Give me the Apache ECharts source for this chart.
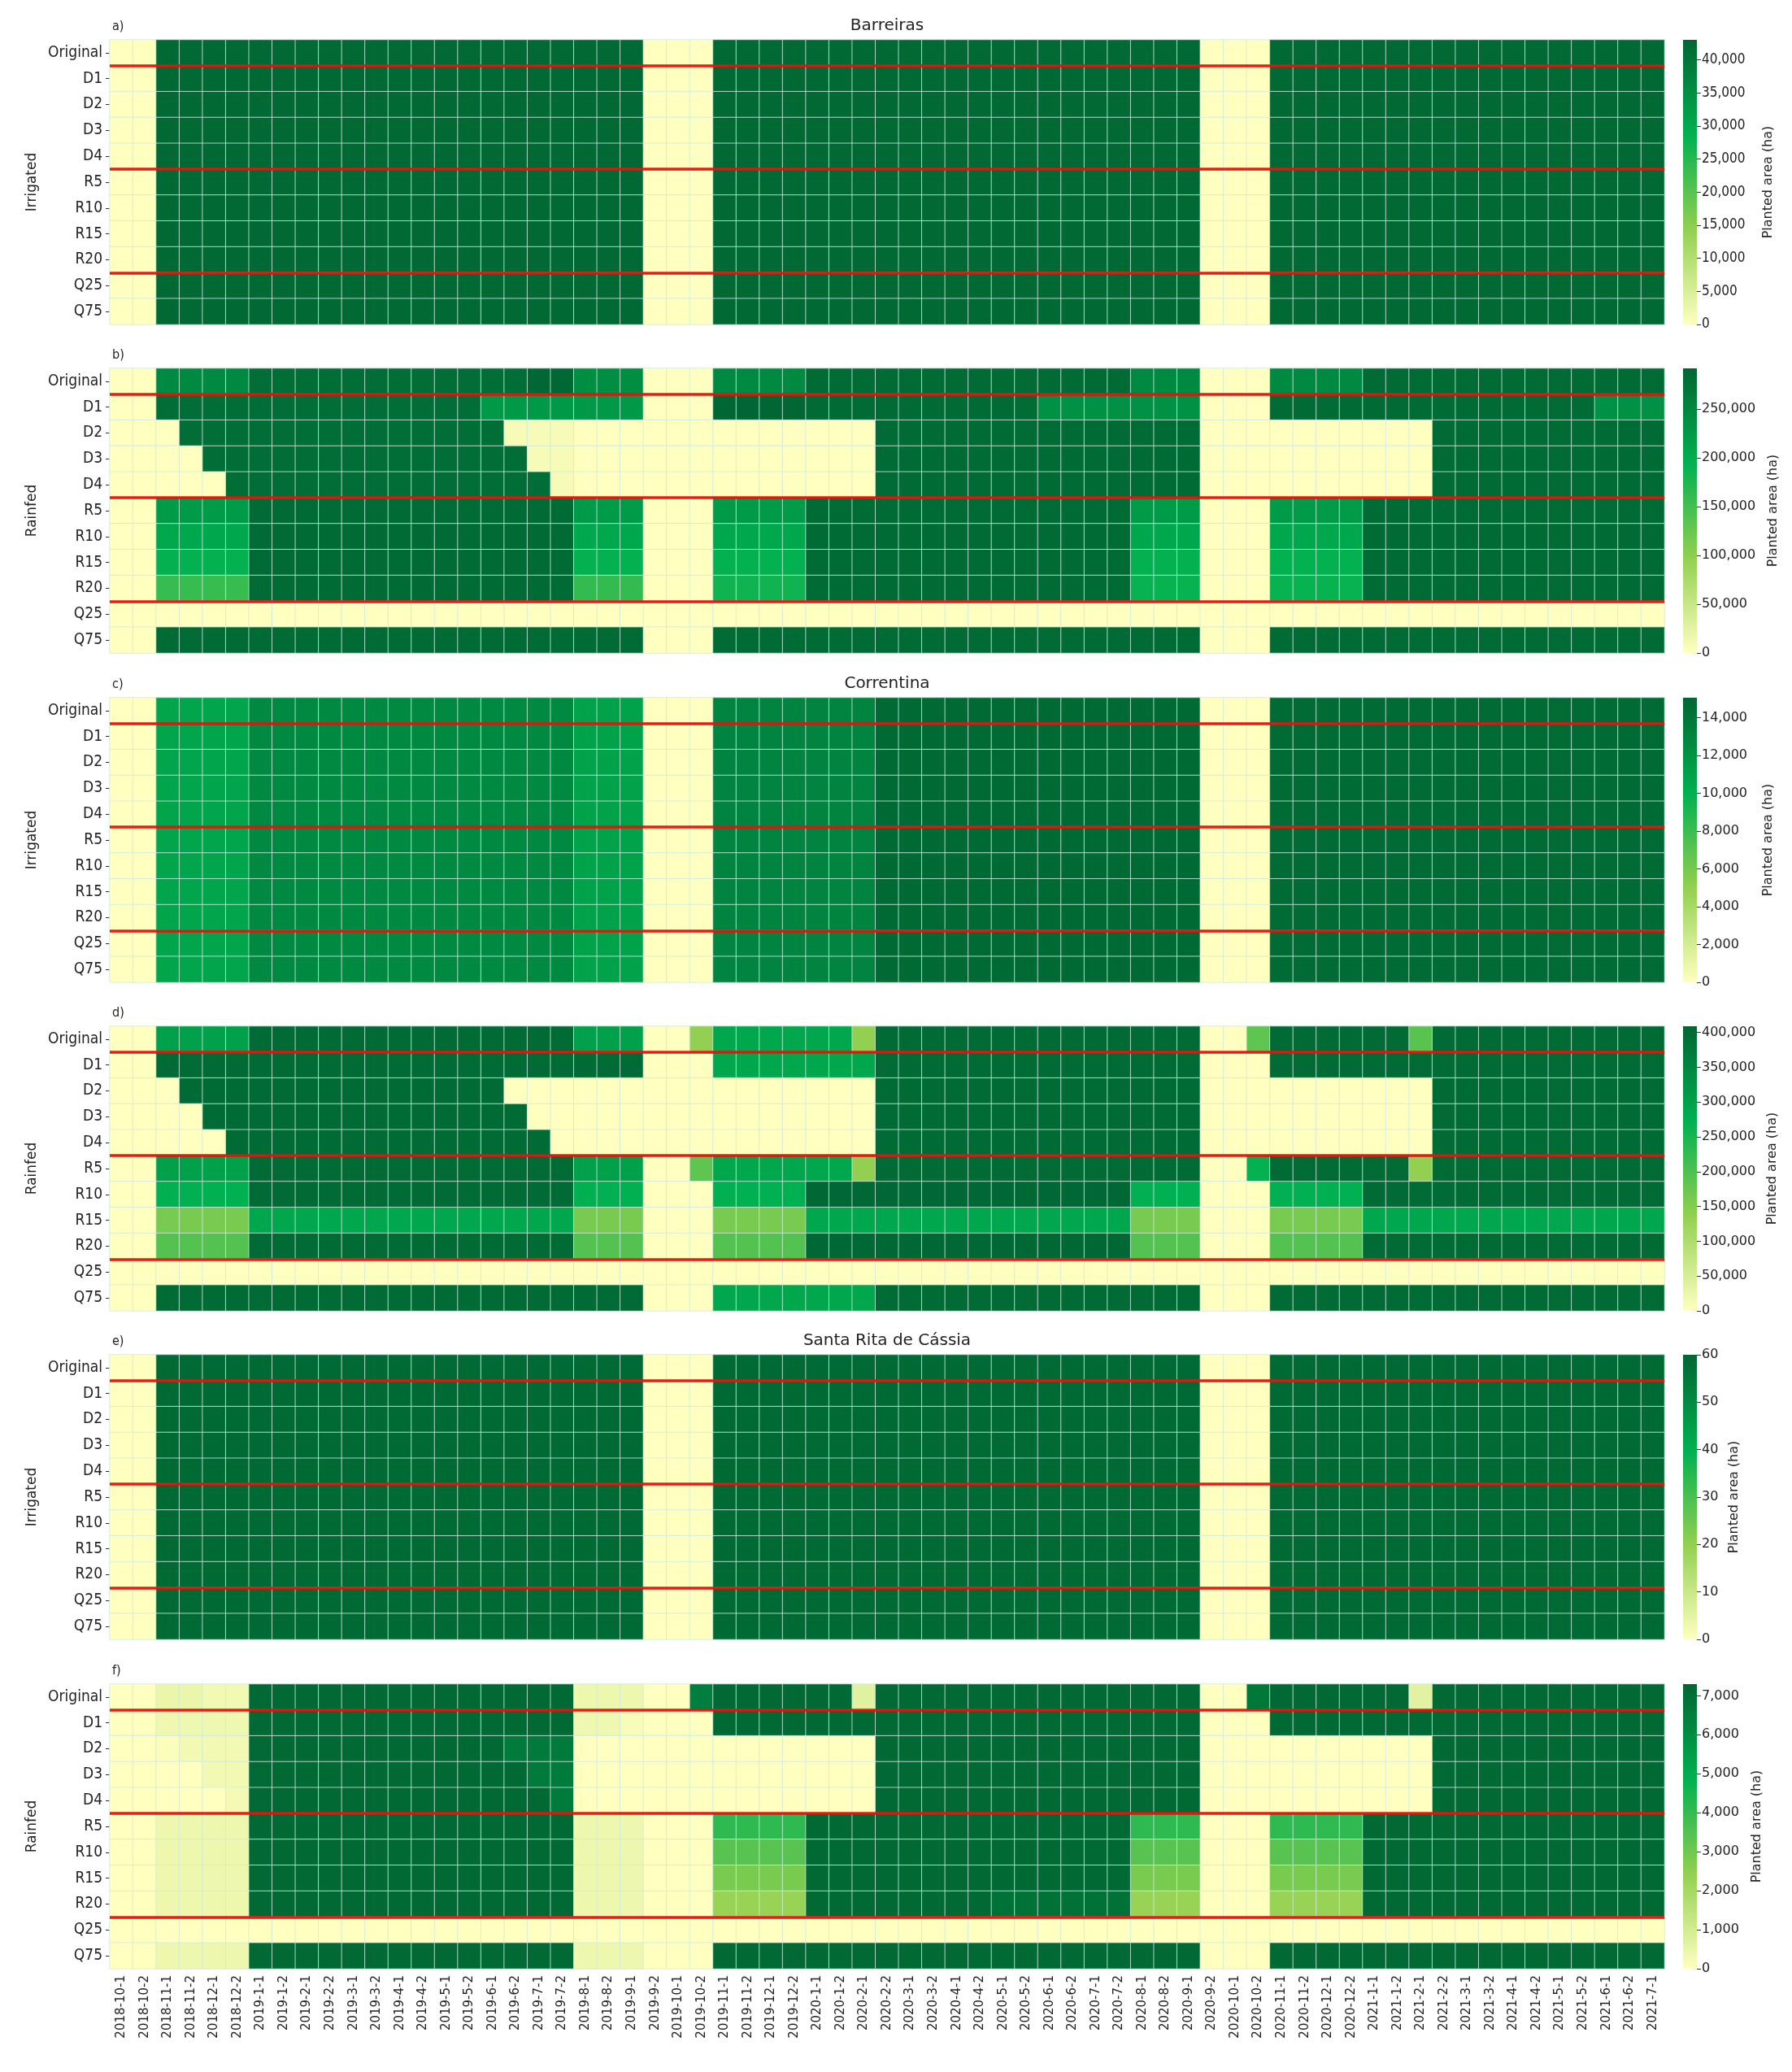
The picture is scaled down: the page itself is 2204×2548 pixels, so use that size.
<!DOCTYPE html>
<html><head><meta charset="utf-8">
<script src="https://cdn.jsdelivr.net/npm/echarts@6/dist/echarts.min.js"></script>
<style>html,body{margin:0;padding:0;background:#fff}#c{width:2204px;height:2548px}</style>
</head><body><div id="c"></div>
<script>
const columns = ['2018-10-1','2018-10-2','2018-11-1','2018-11-2','2018-12-1','2018-12-2',
'2019-1-1','2019-1-2','2019-2-1','2019-2-2','2019-3-1','2019-3-2','2019-4-1','2019-4-2','2019-5-1','2019-5-2','2019-6-1','2019-6-2',
'2019-7-1','2019-7-2','2019-8-1','2019-8-2','2019-9-1','2019-9-2','2019-10-1','2019-10-2','2019-11-1','2019-11-2','2019-12-1','2019-12-2',
'2020-1-1','2020-1-2','2020-2-1','2020-2-2','2020-3-1','2020-3-2','2020-4-1','2020-4-2','2020-5-1','2020-5-2','2020-6-1','2020-6-2',
'2020-7-1','2020-7-2','2020-8-1','2020-8-2','2020-9-1','2020-9-2','2020-10-1','2020-10-2','2020-11-1','2020-11-2','2020-12-1','2020-12-2',
'2021-1-1','2021-1-2','2021-2-1','2021-2-2','2021-3-1','2021-3-2','2021-4-1','2021-4-2','2021-5-1','2021-5-2','2021-6-1','2021-6-2','2021-7-1'];
const scenarios = ['Original','D1','D2','D3','D4','R5','R10','R15','R20','Q25','Q75'];
const separatorRows = [1, 5, 9];

const barreirasIrrigatedTicks = [0,5000,10000,15000,20000,25000,30000,35000,40000];
const barreirasRainfedTicks = [0,50000,100000,150000,200000,250000];
const correntinaIrrigatedTicks = [0,2000,4000,6000,8000,10000,12000,14000];
const correntinaRainfedTicks = [0,50000,100000,150000,200000,250000,300000,350000,400000];
const santaRitaIrrigatedTicks = [0,10,20,30,40,50,60];
const santaRitaRainfedTicks = [0,1000,2000,3000,4000,5000,6000,7000];
const colorbarMax = [43000, 292000, 15050, 409000, 60, 7300];

const barreirasIrrigated = [
[0,0,42500,42500,42500,42500,42500,42500,42500,42500,42500,42500,42500,42500,42500,42500,42500,42500,42500,42500,42500,42500,42500,0,0,0,42500,42500,42500,42500,42500,42500,42500,42500,42500,42500,42500,42500,42500,42500,42500,42500,42500,42500,42500,42500,42500,0,0,0,42500,42500,42500,42500,42500,42500,42500,42500,42500,42500,42500,42500,42500,42500,42500,42500,42500],
[0,0,42500,42500,42500,42500,42500,42500,42500,42500,42500,42500,42500,42500,42500,42500,42500,42500,42500,42500,42500,42500,42500,0,0,0,42500,42500,42500,42500,42500,42500,42500,42500,42500,42500,42500,42500,42500,42500,42500,42500,42500,42500,42500,42500,42500,0,0,0,42500,42500,42500,42500,42500,42500,42500,42500,42500,42500,42500,42500,42500,42500,42500,42500,42500],
[0,0,42500,42500,42500,42500,42500,42500,42500,42500,42500,42500,42500,42500,42500,42500,42500,42500,42500,42500,42500,42500,42500,0,0,0,42500,42500,42500,42500,42500,42500,42500,42500,42500,42500,42500,42500,42500,42500,42500,42500,42500,42500,42500,42500,42500,0,0,0,42500,42500,42500,42500,42500,42500,42500,42500,42500,42500,42500,42500,42500,42500,42500,42500,42500],
[0,0,42500,42500,42500,42500,42500,42500,42500,42500,42500,42500,42500,42500,42500,42500,42500,42500,42500,42500,42500,42500,42500,0,0,0,42500,42500,42500,42500,42500,42500,42500,42500,42500,42500,42500,42500,42500,42500,42500,42500,42500,42500,42500,42500,42500,0,0,0,42500,42500,42500,42500,42500,42500,42500,42500,42500,42500,42500,42500,42500,42500,42500,42500,42500],
[0,0,42500,42500,42500,42500,42500,42500,42500,42500,42500,42500,42500,42500,42500,42500,42500,42500,42500,42500,42500,42500,42500,0,0,0,42500,42500,42500,42500,42500,42500,42500,42500,42500,42500,42500,42500,42500,42500,42500,42500,42500,42500,42500,42500,42500,0,0,0,42500,42500,42500,42500,42500,42500,42500,42500,42500,42500,42500,42500,42500,42500,42500,42500,42500],
[0,0,42500,42500,42500,42500,42500,42500,42500,42500,42500,42500,42500,42500,42500,42500,42500,42500,42500,42500,42500,42500,42500,0,0,0,42500,42500,42500,42500,42500,42500,42500,42500,42500,42500,42500,42500,42500,42500,42500,42500,42500,42500,42500,42500,42500,0,0,0,42500,42500,42500,42500,42500,42500,42500,42500,42500,42500,42500,42500,42500,42500,42500,42500,42500],
[0,0,42500,42500,42500,42500,42500,42500,42500,42500,42500,42500,42500,42500,42500,42500,42500,42500,42500,42500,42500,42500,42500,0,0,0,42500,42500,42500,42500,42500,42500,42500,42500,42500,42500,42500,42500,42500,42500,42500,42500,42500,42500,42500,42500,42500,0,0,0,42500,42500,42500,42500,42500,42500,42500,42500,42500,42500,42500,42500,42500,42500,42500,42500,42500],
[0,0,42500,42500,42500,42500,42500,42500,42500,42500,42500,42500,42500,42500,42500,42500,42500,42500,42500,42500,42500,42500,42500,0,0,0,42500,42500,42500,42500,42500,42500,42500,42500,42500,42500,42500,42500,42500,42500,42500,42500,42500,42500,42500,42500,42500,0,0,0,42500,42500,42500,42500,42500,42500,42500,42500,42500,42500,42500,42500,42500,42500,42500,42500,42500],
[0,0,42500,42500,42500,42500,42500,42500,42500,42500,42500,42500,42500,42500,42500,42500,42500,42500,42500,42500,42500,42500,42500,0,0,0,42500,42500,42500,42500,42500,42500,42500,42500,42500,42500,42500,42500,42500,42500,42500,42500,42500,42500,42500,42500,42500,0,0,0,42500,42500,42500,42500,42500,42500,42500,42500,42500,42500,42500,42500,42500,42500,42500,42500,42500],
[0,0,42500,42500,42500,42500,42500,42500,42500,42500,42500,42500,42500,42500,42500,42500,42500,42500,42500,42500,42500,42500,42500,0,0,0,42500,42500,42500,42500,42500,42500,42500,42500,42500,42500,42500,42500,42500,42500,42500,42500,42500,42500,42500,42500,42500,0,0,0,42500,42500,42500,42500,42500,42500,42500,42500,42500,42500,42500,42500,42500,42500,42500,42500,42500],
[0,0,42500,42500,42500,42500,42500,42500,42500,42500,42500,42500,42500,42500,42500,42500,42500,42500,42500,42500,42500,42500,42500,0,0,0,42500,42500,42500,42500,42500,42500,42500,42500,42500,42500,42500,42500,42500,42500,42500,42500,42500,42500,42500,42500,42500,0,0,0,42500,42500,42500,42500,42500,42500,42500,42500,42500,42500,42500,42500,42500,42500,42500,42500,42500]
];

const barreirasRainfed = [
[0,0,245000,245000,245000,245000,282000,282000,282000,282000,282000,282000,282000,282000,282000,282000,282000,282000,290000,290000,240000,240000,240000,0,0,0,245000,245000,245000,245000,285000,285000,285000,285000,285000,285000,285000,285000,285000,285000,285000,285000,285000,285000,245000,245000,245000,0,0,0,245000,245000,245000,245000,285000,285000,285000,285000,285000,285000,285000,285000,285000,285000,285000,285000,285000],
[0,0,282000,282000,282000,282000,282000,282000,282000,282000,282000,282000,282000,282000,282000,282000,225000,225000,225000,225000,225000,225000,225000,0,0,0,292000,292000,292000,292000,285000,285000,285000,285000,285000,285000,285000,285000,285000,285000,235000,235000,235000,235000,235000,235000,235000,0,0,0,285000,285000,285000,285000,285000,285000,285000,285000,285000,285000,285000,285000,285000,285000,235000,235000,235000],
[0,0,0,282000,282000,282000,282000,282000,282000,282000,282000,282000,282000,282000,282000,282000,282000,8000,8000,8000,0,0,0,0,0,0,0,0,0,0,0,0,0,285000,285000,285000,285000,285000,285000,285000,285000,285000,285000,285000,285000,285000,285000,0,0,0,0,0,0,0,0,0,0,285000,285000,285000,285000,285000,285000,285000,285000,285000,285000],
[0,0,0,0,282000,282000,282000,282000,282000,282000,282000,282000,282000,282000,282000,282000,282000,282000,8000,8000,0,0,0,0,0,0,0,0,0,0,0,0,0,285000,285000,285000,285000,285000,285000,285000,285000,285000,285000,285000,285000,285000,285000,0,0,0,0,0,0,0,0,0,0,285000,285000,285000,285000,285000,285000,285000,285000,285000,285000],
[0,0,0,0,0,282000,282000,282000,282000,282000,282000,282000,282000,282000,282000,282000,282000,282000,282000,8000,0,0,0,0,0,0,0,0,0,0,0,0,0,285000,285000,285000,285000,285000,285000,285000,285000,285000,285000,285000,285000,285000,285000,0,0,0,0,0,0,0,0,0,0,285000,285000,285000,285000,285000,285000,285000,285000,285000,285000],
[0,0,222000,222000,222000,222000,285000,285000,285000,285000,285000,285000,285000,285000,285000,285000,285000,285000,285000,285000,222000,222000,222000,0,0,0,222000,222000,222000,222000,285000,285000,285000,285000,285000,285000,285000,285000,285000,285000,285000,285000,285000,285000,222000,222000,222000,0,0,0,222000,222000,222000,222000,285000,285000,285000,285000,285000,285000,285000,285000,285000,285000,285000,285000,285000],
[0,0,205000,205000,205000,205000,285000,285000,285000,285000,285000,285000,285000,285000,285000,285000,285000,285000,285000,285000,205000,205000,205000,0,0,0,205000,205000,205000,205000,285000,285000,285000,285000,285000,285000,285000,285000,285000,285000,285000,285000,285000,285000,205000,205000,205000,0,0,0,205000,205000,205000,205000,285000,285000,285000,285000,285000,285000,285000,285000,285000,285000,285000,285000,285000],
[0,0,192000,192000,192000,192000,285000,285000,285000,285000,285000,285000,285000,285000,285000,285000,285000,285000,285000,285000,192000,192000,192000,0,0,0,192000,192000,192000,192000,285000,285000,285000,285000,285000,285000,285000,285000,285000,285000,285000,285000,285000,285000,192000,192000,192000,0,0,0,192000,192000,192000,192000,285000,285000,285000,285000,285000,285000,285000,285000,285000,285000,285000,285000,285000],
[0,0,158000,158000,158000,158000,285000,285000,285000,285000,285000,285000,285000,285000,285000,285000,285000,285000,285000,285000,160000,160000,160000,0,0,0,185000,185000,185000,185000,285000,285000,285000,285000,285000,285000,285000,285000,285000,285000,285000,285000,285000,285000,190000,190000,190000,0,0,0,190000,190000,190000,190000,285000,285000,285000,285000,285000,285000,285000,285000,285000,285000,285000,285000,285000],
[0,0,0,0,0,0,0,0,0,0,0,0,0,0,0,0,0,0,0,0,0,0,0,0,0,0,0,0,0,0,0,0,0,0,0,0,0,0,0,0,0,0,0,0,0,0,0,0,0,0,0,0,0,0,0,0,0,0,0,0,0,0,0,0,0,0,0],
[0,0,285000,285000,285000,285000,285000,285000,285000,285000,285000,285000,285000,285000,285000,285000,285000,285000,285000,285000,285000,285000,285000,0,0,0,285000,285000,285000,285000,285000,285000,285000,285000,285000,285000,285000,285000,285000,285000,285000,285000,285000,285000,285000,285000,285000,0,0,0,285000,285000,285000,285000,285000,285000,285000,285000,285000,285000,285000,285000,285000,285000,285000,285000,285000]
];

const correntinaIrrigated = [
[0,0,10800,10800,10800,10800,12600,12600,12600,12600,12600,12600,12600,12600,12600,12600,12600,12600,12600,12600,11000,11000,11000,0,0,0,13000,13000,13000,13000,13000,13000,13000,14800,14800,14800,14800,14800,14800,14800,14800,14800,14800,14800,14800,14800,14800,0,0,0,14700,14700,14700,14700,14700,14700,14700,14700,14700,14700,14700,14700,14700,14700,14700,14700,14700],
[0,0,10800,10800,10800,10800,12600,12600,12600,12600,12600,12600,12600,12600,12600,12600,12600,12600,12600,12600,11000,11000,11000,0,0,0,13000,13000,13000,13000,13000,13000,13000,14800,14800,14800,14800,14800,14800,14800,14800,14800,14800,14800,14800,14800,14800,0,0,0,14700,14700,14700,14700,14700,14700,14700,14700,14700,14700,14700,14700,14700,14700,14700,14700,14700],
[0,0,10800,10800,10800,10800,12600,12600,12600,12600,12600,12600,12600,12600,12600,12600,12600,12600,12600,12600,11000,11000,11000,0,0,0,13000,13000,13000,13000,13000,13000,13000,14800,14800,14800,14800,14800,14800,14800,14800,14800,14800,14800,14800,14800,14800,0,0,0,14700,14700,14700,14700,14700,14700,14700,14700,14700,14700,14700,14700,14700,14700,14700,14700,14700],
[0,0,10800,10800,10800,10800,12600,12600,12600,12600,12600,12600,12600,12600,12600,12600,12600,12600,12600,12600,11000,11000,11000,0,0,0,13000,13000,13000,13000,13000,13000,13000,14800,14800,14800,14800,14800,14800,14800,14800,14800,14800,14800,14800,14800,14800,0,0,0,14700,14700,14700,14700,14700,14700,14700,14700,14700,14700,14700,14700,14700,14700,14700,14700,14700],
[0,0,10800,10800,10800,10800,12600,12600,12600,12600,12600,12600,12600,12600,12600,12600,12600,12600,12600,12600,11000,11000,11000,0,0,0,13000,13000,13000,13000,13000,13000,13000,14800,14800,14800,14800,14800,14800,14800,14800,14800,14800,14800,14800,14800,14800,0,0,0,14700,14700,14700,14700,14700,14700,14700,14700,14700,14700,14700,14700,14700,14700,14700,14700,14700],
[0,0,10800,10800,10800,10800,12600,12600,12600,12600,12600,12600,12600,12600,12600,12600,12600,12600,12600,12600,11000,11000,11000,0,0,0,13000,13000,13000,13000,13000,13000,13000,14800,14800,14800,14800,14800,14800,14800,14800,14800,14800,14800,14800,14800,14800,0,0,0,14700,14700,14700,14700,14700,14700,14700,14700,14700,14700,14700,14700,14700,14700,14700,14700,14700],
[0,0,10800,10800,10800,10800,12600,12600,12600,12600,12600,12600,12600,12600,12600,12600,12600,12600,12600,12600,11000,11000,11000,0,0,0,13000,13000,13000,13000,13000,13000,13000,14800,14800,14800,14800,14800,14800,14800,14800,14800,14800,14800,14800,14800,14800,0,0,0,14700,14700,14700,14700,14700,14700,14700,14700,14700,14700,14700,14700,14700,14700,14700,14700,14700],
[0,0,10800,10800,10800,10800,12600,12600,12600,12600,12600,12600,12600,12600,12600,12600,12600,12600,12600,12600,11000,11000,11000,0,0,0,13000,13000,13000,13000,13000,13000,13000,14800,14800,14800,14800,14800,14800,14800,14800,14800,14800,14800,14800,14800,14800,0,0,0,14700,14700,14700,14700,14700,14700,14700,14700,14700,14700,14700,14700,14700,14700,14700,14700,14700],
[0,0,10800,10800,10800,10800,12600,12600,12600,12600,12600,12600,12600,12600,12600,12600,12600,12600,12600,12600,11000,11000,11000,0,0,0,13000,13000,13000,13000,13000,13000,13000,14800,14800,14800,14800,14800,14800,14800,14800,14800,14800,14800,14800,14800,14800,0,0,0,14700,14700,14700,14700,14700,14700,14700,14700,14700,14700,14700,14700,14700,14700,14700,14700,14700],
[0,0,10800,10800,10800,10800,12600,12600,12600,12600,12600,12600,12600,12600,12600,12600,12600,12600,12600,12600,11000,11000,11000,0,0,0,13000,13000,13000,13000,13000,13000,13000,14800,14800,14800,14800,14800,14800,14800,14800,14800,14800,14800,14800,14800,14800,0,0,0,14700,14700,14700,14700,14700,14700,14700,14700,14700,14700,14700,14700,14700,14700,14700,14700,14700],
[0,0,10800,10800,10800,10800,12600,12600,12600,12600,12600,12600,12600,12600,12600,12600,12600,12600,12600,12600,11000,11000,11000,0,0,0,13000,13000,13000,13000,13000,13000,13000,14800,14800,14800,14800,14800,14800,14800,14800,14800,14800,14800,14800,14800,14800,0,0,0,14700,14700,14700,14700,14700,14700,14700,14700,14700,14700,14700,14700,14700,14700,14700,14700,14700]
];

const correntinaRainfed = [
[0,0,300000,300000,300000,300000,400000,400000,400000,400000,400000,400000,400000,400000,400000,400000,400000,400000,400000,400000,300000,300000,300000,0,0,135000,290000,290000,290000,290000,290000,290000,135000,400000,400000,400000,400000,400000,400000,400000,400000,400000,400000,400000,400000,400000,400000,0,0,185000,400000,400000,400000,400000,400000,400000,190000,400000,400000,400000,400000,400000,400000,400000,400000,400000,400000],
[0,0,400000,400000,400000,400000,400000,400000,400000,400000,400000,400000,400000,400000,400000,400000,400000,400000,400000,400000,400000,400000,400000,0,0,0,290000,290000,290000,290000,290000,290000,290000,400000,400000,400000,400000,400000,400000,400000,400000,400000,400000,400000,400000,400000,400000,0,0,0,400000,400000,400000,400000,400000,400000,400000,400000,400000,400000,400000,400000,400000,400000,400000,400000,400000],
[0,0,0,400000,400000,400000,400000,400000,400000,400000,400000,400000,400000,400000,400000,400000,400000,0,0,0,0,0,0,0,0,0,0,0,0,0,0,0,0,400000,400000,400000,400000,400000,400000,400000,400000,400000,400000,400000,400000,400000,400000,0,0,0,0,0,0,0,0,0,0,400000,400000,400000,400000,400000,400000,400000,400000,400000,400000],
[0,0,0,0,400000,400000,400000,400000,400000,400000,400000,400000,400000,400000,400000,400000,400000,400000,0,0,0,0,0,0,0,0,0,0,0,0,0,0,0,400000,400000,400000,400000,400000,400000,400000,400000,400000,400000,400000,400000,400000,400000,0,0,0,0,0,0,0,0,0,0,400000,400000,400000,400000,400000,400000,400000,400000,400000,400000],
[0,0,0,0,0,400000,400000,400000,400000,400000,400000,400000,400000,400000,400000,400000,400000,400000,400000,0,0,0,0,0,0,0,0,0,0,0,0,0,0,400000,400000,400000,400000,400000,400000,400000,400000,400000,400000,400000,400000,400000,400000,0,0,0,0,0,0,0,0,0,0,400000,400000,400000,400000,400000,400000,400000,400000,400000,400000],
[0,0,300000,300000,300000,300000,400000,400000,400000,400000,400000,400000,400000,400000,400000,400000,400000,400000,400000,400000,300000,300000,300000,0,0,185000,290000,290000,290000,290000,290000,290000,135000,400000,400000,400000,400000,400000,400000,400000,400000,400000,400000,400000,400000,400000,400000,0,0,270000,400000,400000,400000,400000,400000,400000,135000,400000,400000,400000,400000,400000,400000,400000,400000,400000,400000],
[0,0,272000,272000,272000,272000,400000,400000,400000,400000,400000,400000,400000,400000,400000,400000,400000,400000,400000,400000,272000,272000,272000,0,0,0,272000,272000,272000,272000,405000,405000,405000,405000,405000,405000,405000,405000,405000,405000,405000,405000,405000,405000,272000,272000,272000,0,0,0,272000,272000,272000,272000,400000,400000,400000,400000,400000,400000,400000,400000,400000,400000,400000,400000,400000],
[0,0,160000,160000,160000,160000,290000,290000,290000,290000,290000,290000,290000,290000,290000,290000,290000,290000,290000,290000,160000,160000,160000,0,0,0,160000,160000,160000,160000,290000,290000,290000,290000,290000,290000,290000,290000,290000,290000,290000,290000,290000,290000,160000,160000,160000,0,0,0,160000,160000,160000,160000,290000,290000,290000,290000,290000,290000,290000,290000,290000,290000,290000,290000,290000],
[0,0,195000,195000,195000,195000,400000,400000,400000,400000,400000,400000,400000,400000,400000,400000,400000,400000,400000,400000,195000,195000,195000,0,0,0,195000,195000,195000,195000,405000,405000,405000,405000,405000,405000,405000,405000,405000,405000,405000,405000,405000,405000,195000,195000,195000,0,0,0,195000,195000,195000,195000,400000,400000,400000,400000,400000,400000,400000,400000,400000,400000,400000,400000,400000],
[0,0,0,0,0,0,0,0,0,0,0,0,0,0,0,0,0,0,0,0,0,0,0,0,0,0,0,0,0,0,0,0,0,0,0,0,0,0,0,0,0,0,0,0,0,0,0,0,0,0,0,0,0,0,0,0,0,0,0,0,0,0,0,0,0,0,0],
[0,0,400000,400000,400000,400000,400000,400000,400000,400000,400000,400000,400000,400000,400000,400000,400000,400000,400000,400000,400000,400000,400000,0,0,0,290000,290000,290000,290000,290000,290000,290000,400000,400000,400000,400000,400000,400000,400000,400000,400000,400000,400000,400000,400000,400000,0,0,0,400000,400000,400000,400000,400000,400000,400000,400000,400000,400000,400000,400000,400000,400000,400000,400000,400000]
];

const santaRitaIrrigated = [
[0,0,59,59,59,59,59,59,59,59,59,59,59,59,59,59,59,59,59,59,59,59,59,0,0,0,59,59,59,59,59,59,59,59,59,59,59,59,59,59,59,59,59,59,59,59,59,0,0,0,59,59,59,59,59,59,59,59,59,59,59,59,59,59,59,59,59],
[0,0,59,59,59,59,59,59,59,59,59,59,59,59,59,59,59,59,59,59,59,59,59,0,0,0,59,59,59,59,59,59,59,59,59,59,59,59,59,59,59,59,59,59,59,59,59,0,0,0,59,59,59,59,59,59,59,59,59,59,59,59,59,59,59,59,59],
[0,0,59,59,59,59,59,59,59,59,59,59,59,59,59,59,59,59,59,59,59,59,59,0,0,0,59,59,59,59,59,59,59,59,59,59,59,59,59,59,59,59,59,59,59,59,59,0,0,0,59,59,59,59,59,59,59,59,59,59,59,59,59,59,59,59,59],
[0,0,59,59,59,59,59,59,59,59,59,59,59,59,59,59,59,59,59,59,59,59,59,0,0,0,59,59,59,59,59,59,59,59,59,59,59,59,59,59,59,59,59,59,59,59,59,0,0,0,59,59,59,59,59,59,59,59,59,59,59,59,59,59,59,59,59],
[0,0,59,59,59,59,59,59,59,59,59,59,59,59,59,59,59,59,59,59,59,59,59,0,0,0,59,59,59,59,59,59,59,59,59,59,59,59,59,59,59,59,59,59,59,59,59,0,0,0,59,59,59,59,59,59,59,59,59,59,59,59,59,59,59,59,59],
[0,0,59,59,59,59,59,59,59,59,59,59,59,59,59,59,59,59,59,59,59,59,59,0,0,0,59,59,59,59,59,59,59,59,59,59,59,59,59,59,59,59,59,59,59,59,59,0,0,0,59,59,59,59,59,59,59,59,59,59,59,59,59,59,59,59,59],
[0,0,59,59,59,59,59,59,59,59,59,59,59,59,59,59,59,59,59,59,59,59,59,0,0,0,59,59,59,59,59,59,59,59,59,59,59,59,59,59,59,59,59,59,59,59,59,0,0,0,59,59,59,59,59,59,59,59,59,59,59,59,59,59,59,59,59],
[0,0,59,59,59,59,59,59,59,59,59,59,59,59,59,59,59,59,59,59,59,59,59,0,0,0,59,59,59,59,59,59,59,59,59,59,59,59,59,59,59,59,59,59,59,59,59,0,0,0,59,59,59,59,59,59,59,59,59,59,59,59,59,59,59,59,59],
[0,0,59,59,59,59,59,59,59,59,59,59,59,59,59,59,59,59,59,59,59,59,59,0,0,0,59,59,59,59,59,59,59,59,59,59,59,59,59,59,59,59,59,59,59,59,59,0,0,0,59,59,59,59,59,59,59,59,59,59,59,59,59,59,59,59,59],
[0,0,59,59,59,59,59,59,59,59,59,59,59,59,59,59,59,59,59,59,59,59,59,0,0,0,59,59,59,59,59,59,59,59,59,59,59,59,59,59,59,59,59,59,59,59,59,0,0,0,59,59,59,59,59,59,59,59,59,59,59,59,59,59,59,59,59],
[0,0,59,59,59,59,59,59,59,59,59,59,59,59,59,59,59,59,59,59,59,59,59,0,0,0,59,59,59,59,59,59,59,59,59,59,59,59,59,59,59,59,59,59,59,59,59,0,0,0,59,59,59,59,59,59,59,59,59,59,59,59,59,59,59,59,59]
];

const santaRitaRainfed = [
[0,0,450,450,300,300,7200,7200,7200,7200,7200,7200,7200,7200,7200,7200,7200,7200,7200,7200,400,400,400,0,0,6500,7200,7200,7200,7200,7200,7200,700,7200,7200,7200,7200,7200,7200,7200,7200,7200,7200,7200,7200,7200,7200,0,0,6700,7200,7200,7200,7200,7200,7200,650,7200,7200,7200,7200,7200,7200,7200,7200,7200,7200],
[0,0,350,350,350,350,7200,7200,7200,7200,7200,7200,7200,7200,7200,7200,7200,7200,7200,7200,350,350,150,0,0,0,7200,7200,7200,7200,7200,7200,7200,7200,7200,7200,7200,7200,7200,7200,7200,7200,7200,7200,7200,7200,7200,0,0,0,7200,7200,7200,7200,7200,7200,7200,7200,7200,7200,7200,7200,7200,7200,7200,7200,7200],
[0,0,100,300,300,300,7200,7200,7200,7200,7200,7200,7200,7200,7200,7200,7200,6600,6600,6600,0,0,0,0,0,0,0,0,0,0,0,0,0,7200,7200,7200,7200,7200,7200,7200,7200,7200,7200,7200,7200,7200,7200,0,0,0,0,0,0,0,0,0,0,7200,7200,7200,7200,7200,7200,7200,7200,7200,7200],
[0,0,0,0,300,300,7200,7200,7200,7200,7200,7200,7200,7200,7200,7200,7200,7200,6600,6600,0,0,0,0,0,0,0,0,0,0,0,0,0,7200,7200,7200,7200,7200,7200,7200,7200,7200,7200,7200,7200,7200,7200,0,0,0,0,0,0,0,0,0,0,7200,7200,7200,7200,7200,7200,7200,7200,7200,7200],
[0,0,0,0,0,250,7200,7200,7200,7200,7200,7200,7200,7200,7200,7200,7200,7200,7200,6600,0,0,0,0,0,0,0,0,0,0,0,0,0,7200,7200,7200,7200,7200,7200,7200,7200,7200,7200,7200,7200,7200,7200,0,0,0,0,0,0,0,0,0,0,7200,7200,7200,7200,7200,7200,7200,7200,7200,7200],
[0,0,400,400,400,400,7200,7200,7200,7200,7200,7200,7200,7200,7200,7200,7200,7200,7200,7200,400,400,400,0,0,0,4100,4100,4100,4100,7200,7200,7200,7200,7200,7200,7200,7200,7200,7200,7200,7200,7200,7200,4100,4100,4100,0,0,0,4100,4100,4100,4100,7200,7200,7200,7200,7200,7200,7200,7200,7200,7200,7200,7200,7200],
[0,0,400,400,400,400,7200,7200,7200,7200,7200,7200,7200,7200,7200,7200,7200,7200,7200,7200,400,400,400,0,0,0,3400,3400,3400,3400,7200,7200,7200,7200,7200,7200,7200,7200,7200,7200,7200,7200,7200,7200,3400,3400,3400,0,0,0,3400,3400,3400,3400,7200,7200,7200,7200,7200,7200,7200,7200,7200,7200,7200,7200,7200],
[0,0,400,400,400,400,7200,7200,7200,7200,7200,7200,7200,7200,7200,7200,7200,7200,7200,7200,400,400,400,0,0,0,2850,2850,2850,2850,7200,7200,7200,7200,7200,7200,7200,7200,7200,7200,7200,7200,7200,7200,2850,2850,2850,0,0,0,2850,2850,2850,2850,7200,7200,7200,7200,7200,7200,7200,7200,7200,7200,7200,7200,7200],
[0,0,400,400,400,400,7200,7200,7200,7200,7200,7200,7200,7200,7200,7200,7200,7200,7200,7200,400,400,400,0,0,0,2300,2300,2300,2300,7200,7200,7200,7200,7200,7200,7200,7200,6900,6900,6900,6900,6900,6900,2300,2300,2300,0,0,0,2300,2300,2300,2300,7200,7200,7200,7200,7200,7200,7200,7200,7200,7200,7200,7200,7200],
[0,0,0,0,0,0,0,0,0,0,0,0,0,0,0,0,0,0,0,0,0,0,0,0,0,0,0,0,0,0,0,0,0,0,0,0,0,0,0,0,0,0,0,0,0,0,0,0,0,0,0,0,0,0,0,0,0,0,0,0,0,0,0,0,0,0,0],
[0,0,400,400,400,400,7200,7200,7200,7200,7200,7200,7200,7200,7200,7200,7200,7200,7200,7200,400,400,400,0,0,0,7200,7200,7200,7200,7200,7200,7200,7200,7200,7200,7200,7200,7200,7200,7200,7200,7200,7200,7200,7200,7200,0,0,0,7200,7200,7200,7200,7200,7200,7200,7200,7200,7200,7200,7200,7200,7200,7200,7200,7200]
];

const COLORS = ['#ffffc0', '#92d050', '#00b050', '#006633'];

const panels = [
  {letter:'a)', title:'Barreiras', side:'Irrigated', data:barreirasIrrigated, ticks:barreirasIrrigatedTicks, cbFont:'DejaVu Sans Condensed', cbSize:17, nameGap:80},
  {letter:'b)', title:'', side:'Rainfed', data:barreirasRainfed, ticks:barreirasRainfedTicks, cbFont:'DejaVu Sans', cbSize:16, nameGap:86},
  {letter:'c)', title:'Correntina', side:'Irrigated', data:correntinaIrrigated, ticks:correntinaIrrigatedTicks, cbFont:'DejaVu Sans', cbSize:16, nameGap:80},
  {letter:'d)', title:'', side:'Rainfed', data:correntinaRainfed, ticks:correntinaRainfedTicks, cbFont:'DejaVu Sans', cbSize:16, nameGap:85},
  {letter:'e)', title:'Santa Rita de Cássia', side:'Irrigated', data:santaRitaIrrigated, ticks:santaRitaIrrigatedTicks, cbFont:'DejaVu Sans', cbSize:16, nameGap:38},
  {letter:'f)', title:'', side:'Rainfed', data:santaRitaRainfed, ticks:santaRitaRainfedTicks, cbFont:'DejaVu Sans', cbSize:16, nameGap:66}
];

panels.forEach((p, i) => {
  if (p.data.length !== scenarios.length) throw new Error('panel ' + i + ' rows ' + p.data.length);
  p.data.forEach((r, k) => { if (r.length !== columns.length) throw new Error('panel ' + i + ' row ' + k + ' len ' + r.length); });
});

const PLOT_LEFT = 135, PLOT_W = 1912, PLOT_H = 350;
const CB_LEFT = 2070, CB_W = 17;
const tops = [49, 453, 858, 1262, 1666, 2071];

const grids = [], xAxes = [], yAxes = [], series = [], visualMaps = [], graphics = [];
const labelColor = '#222';

panels.forEach((p, i) => {
  const top = tops[i];
  const max = colorbarMax[i];
  const g = grids.length;
  grids.push({left: PLOT_LEFT, width: PLOT_W, top: top, height: PLOT_H});
  grids.push({left: CB_LEFT, width: CB_W, top: top, height: PLOT_H});
  const xi = xAxes.length, yi = yAxes.length;
  xAxes.push({type: 'category', gridIndex: g, data: columns,
    axisLine: {show: false},
    axisTick: {show: true, alignWithLabel: true, interval: 0, length: 6, lineStyle: {color: '#333', width: 1}},
    axisLabel: {show: i === panels.length - 1, interval: 0, rotate: 90, fontFamily: 'DejaVu Sans', fontSize: 15, color: labelColor, margin: 8},
    splitLine: {show: false}});
  yAxes.push({type: 'category', gridIndex: g, data: scenarios, inverse: true,
    axisLine: {show: false},
    axisTick: {show: true, alignWithLabel: true, length: 5, lineStyle: {color: '#333', width: 1}},
    axisLabel: {fontFamily: 'DejaVu Sans Condensed', fontSize: 19, color: labelColor, margin: 9},
    name: p.side, nameLocation: 'middle', nameRotate: 90, nameGap: 84,
    nameTextStyle: {fontFamily: 'DejaVu Sans', fontSize: 17, color: labelColor}});
  xAxes.push({type: 'value', gridIndex: g, min: 0, max: columns.length, show: false});
  yAxes.push({type: 'value', gridIndex: g, min: 0, max: scenarios.length, inverse: true, show: false});
  xAxes.push({type: 'category', gridIndex: g + 1, data: [''], show: false});
  yAxes.push({type: 'value', gridIndex: g + 1, min: 0, max: max, position: 'right',
    axisLine: {show: false},
    splitLine: {show: false},
    axisTick: {show: true, customValues: p.ticks, length: 5, lineStyle: {color: '#333', width: 1}},
    axisLabel: {customValues: p.ticks, formatter: v => Number(v).toLocaleString('en-US'), fontFamily: p.cbFont, fontSize: p.cbSize, color: labelColor, margin: 6},
    name: 'Planted area (ha)', nameLocation: 'middle', nameRotate: 90, nameGap: p.nameGap,
    nameTextStyle: {fontFamily: 'DejaVu Sans', fontSize: 16, color: labelColor}});

  const cells = [];
  p.data.forEach((row, r) => row.forEach((v, c) => cells.push([c, r, v])));
  const si = series.length;
  series.push({type: 'heatmap', xAxisIndex: xi, yAxisIndex: yi, data: cells,
    itemStyle: {borderColor: 'rgba(205,235,222,0.8)', borderWidth: 1},
    emphasis: {disabled: true}, progressive: 0, silent: true});
  visualMaps.push({type: 'continuous', show: false, seriesIndex: si, min: 0, max: max, inRange: {color: COLORS}});
  series.push({type: 'lines', coordinateSystem: 'cartesian2d', xAxisIndex: xi + 1, yAxisIndex: yi + 1,
    data: separatorRows.map(r => ({coords: [[0, r], [columns.length, r]]})),
    lineStyle: {color: '#e3120b', width: 3.5, opacity: 0.95}, silent: true, z: 5});
  series.push({type: 'bar', xAxisIndex: xi + 2, yAxisIndex: yi + 2, data: [max], barWidth: '100%', silent: true,
    itemStyle: {color: new echarts.graphic.LinearGradient(0, 1, 0, 0,
      COLORS.map((c, k) => ({offset: k / (COLORS.length - 1), color: c})))}});

  graphics.push({type: 'text', x: PLOT_LEFT + 3, y: top - 16,
    style: {text: p.letter, font: '16px "DejaVu Sans Condensed"', fill: labelColor, textVerticalAlign: 'middle', verticalAlign: 'middle'}});
  if (p.title) {
    graphics.push({type: 'text', x: PLOT_LEFT + PLOT_W / 2, y: top - 17,
      style: {text: p.title, font: '20px "DejaVu Sans"', fill: labelColor,
        textAlign: 'center', align: 'center', textVerticalAlign: 'middle', verticalAlign: 'middle'}});
  }
});

const chart = echarts.init(document.getElementById('c'), null, {renderer: 'canvas'});
chart.setOption({
  animation: false,
  backgroundColor: '#ffffff',
  grid: grids, xAxis: xAxes, yAxis: yAxes, visualMap: visualMaps, series: series, graphic: graphics
});
</script></body></html>
